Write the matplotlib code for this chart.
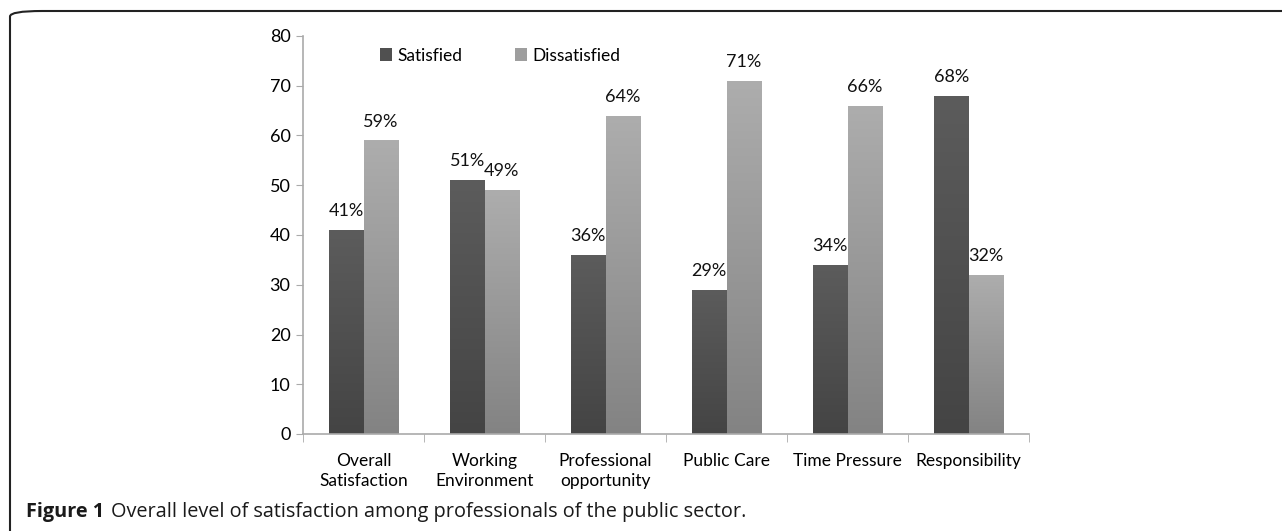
import numpy as np
import matplotlib.pyplot as plt
from matplotlib.patches import FancyBboxPatch, Patch
from matplotlib.colors import LinearSegmentedColormap

categories = ["Overall\nSatisfaction", "Working\nEnvironment", "Professional\nopportunity",
              "Public Care", "Time Pressure", "Responsibility"]
satisfied = [41, 51, 36, 29, 34, 68]
dissatisfied = [59, 49, 64, 71, 66, 32]

plt.rcParams['font.family'] = ['Lato', 'DejaVu Sans']

fig = plt.figure(figsize=(12.82, 5.31), dpi=100)

# rounded frame, only top and left edges visible
frame = FancyBboxPatch((10 / 1282, -0.2), 1.2, (531 - 11) / 531 + 0.2,
                       boxstyle="round,pad=0,rounding_size=0.025",
                       transform=fig.transFigure, fill=False,
                       edgecolor="#222222", linewidth=1.5, mutation_aspect=531 / 1282)
fig.patches.append(frame)

ax = fig.add_axes([303 / 1282, 97 / 531, 726 / 1282, 398 / 531])

x = np.arange(len(categories))
w = 0.285

cm_dark = LinearSegmentedColormap.from_list("d", ["#444444", "#5c5c5c"])
cm_light = LinearSegmentedColormap.from_list("l", ["#838383", "#adadad"])
grad = np.linspace(0, 1, 256).reshape(-1, 1)

def gradient_bars(xs, vals, cmap):
    for xi, v in zip(xs, vals):
        im = ax.imshow(grad, cmap=cmap, origin="lower", aspect="auto",
                       extent=(xi - w / 2, xi + w / 2, 0, v), zorder=2)
        rect = plt.Rectangle((xi - w / 2, 0), w, v, transform=ax.transData)
        im.set_clip_path(rect)

gradient_bars(x - w / 2, satisfied, cm_dark)
gradient_bars(x + w / 2, dissatisfied, cm_light)

for xi, v in zip(x - w / 2, satisfied):
    ax.text(xi, v + 2.2, f"{v}%", ha="center", va="bottom", fontsize=13, color="#111111")
for xi, v in zip(x + w / 2, dissatisfied):
    ax.text(xi, v + 2.2, f"{v}%", ha="center", va="bottom", fontsize=13, color="#111111")

ax.set_xlim(-0.5, len(categories) - 0.5)
ax.set_ylim(0, 80)
ax.set_yticks(range(0, 81, 10))
ax.set_xticks(x)
ax.set_xticklabels(categories, fontsize=12.5, linespacing=1.3)
ax.set_xticks(np.arange(-0.5, len(categories), 1), minor=True)
ax.tick_params(axis="x", which="major", length=0, pad=14)
ax.tick_params(axis="x", which="minor", length=6, color="#aaaaaa", direction="out")
ax.tick_params(axis="y", length=5, color="#aaaaaa", labelsize=13, pad=4)

for s in ["top", "right"]:
    ax.spines[s].set_visible(False)
for s in ["left", "bottom"]:
    ax.spines[s].set_color("#aaaaaa")
    ax.spines[s].set_linewidth(1.2)

handles = [Patch(facecolor="#505050", label="Satisfied"),
           Patch(facecolor="#9e9e9e", label="Dissatisfied")]
ax.legend(handles=handles, loc="upper left", bbox_to_anchor=(0.085, 1.01), ncol=2,
          frameon=False, fontsize=12.5, handlelength=0.7, handleheight=0.7,
          handletextpad=0.3, columnspacing=3.0)

# caption: bold "Figure 1" followed by the regular text
cap_y = 1 - 512 / 531
t1 = fig.text(26 / 1282, cap_y, "Figure 1", fontsize=14.3, fontweight="bold",
              family="Open Sans", va="center", ha="left", color="#1a1a1a")
fig.canvas.draw()
x_end = t1.get_window_extent().x1
fig.text((x_end + 7) / 1282, cap_y,
         "Overall level of satisfaction among professionals of the public sector.",
         fontsize=14.3, family="Open Sans", va="center", ha="left", color="#1a1a1a")

plt.savefig("out.png", dpi=100)
